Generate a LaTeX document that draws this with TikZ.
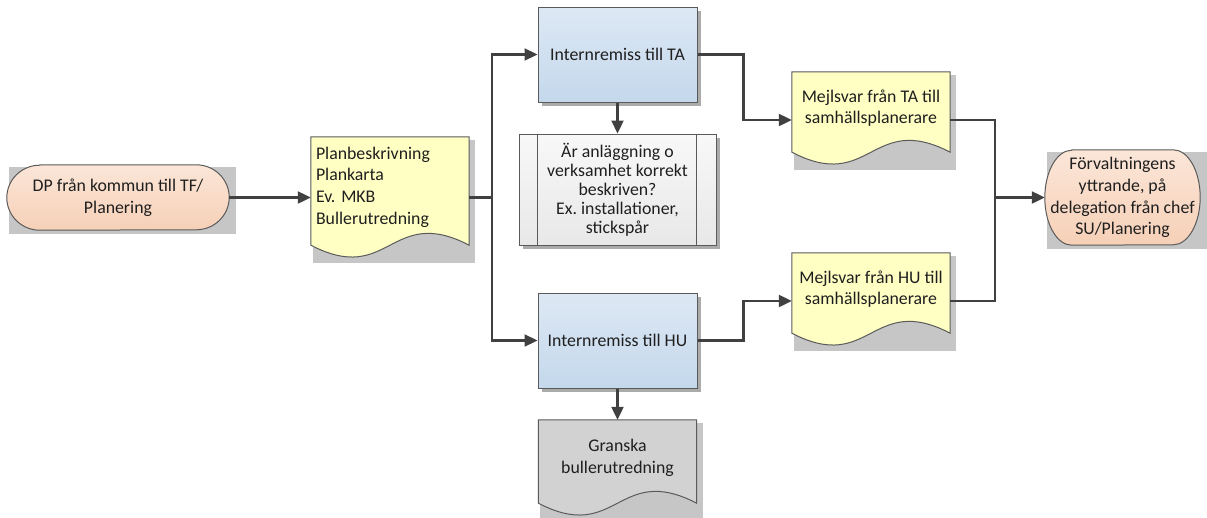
\documentclass[tikz,border=0pt]{standalone}
\usepackage{fontspec}
\setmainfont{Carlito}
\usetikzlibrary{arrows.meta,shadows}
\pgfdeclarelayer{background}
\pgfsetlayers{background,main}
\frenchspacing

\definecolor{linegray}{HTML}{404040}
\definecolor{bordergray}{HTML}{5A5A5A}
\definecolor{shadowgray}{HTML}{C6C6C6}
\definecolor{boxshadow}{HTML}{ABABAB}
\definecolor{peachtop}{HTML}{FBE6D8}
\definecolor{peachbot}{HTML}{F6D0B7}
\definecolor{bluetop}{HTML}{DDE8F4}
\definecolor{bluebot}{HTML}{C4D8EC}
\definecolor{subtop}{HTML}{F8F8F8}
\definecolor{subbot}{HTML}{E8E8E8}
\definecolor{docyellow}{HTML}{FFFFC4}
\definecolor{docgray}{HTML}{D2D2D2}

\begin{document}
\begin{tikzpicture}[x=1pt, y=1pt, >={Triangle[length=13pt,width=12pt]},
  every node/.style={font=\fontsize{17.8}{21.7}\selectfont, text=black!88},
  conn/.style={draw=linegray, line width=2.2pt},
  border/.style={draw=bordergray, line width=1pt},
  pill node/.style={inner sep=0pt, align=center},
  task node/.style={border, inner sep=0pt, align=center, minimum width=159pt, minimum height=95pt,
    top color=bluetop, bottom color=bluebot,
    drop shadow={shadow xshift=4pt, shadow yshift=-4pt, fill=boxshadow, opacity=1}},
  sub node/.style={border, inner sep=0pt, align=center, minimum width=197pt, minimum height=111pt,
    top color=subtop, bottom color=subbot, font=\fontsize{17.8}{19}\selectfont,
    drop shadow={shadow xshift=4pt, shadow yshift=-4pt, fill=boxshadow, opacity=1}},
  doc node/.style={inner sep=0pt, align=center, minimum width=158pt}]

  \useasboundingbox (0,0) rectangle (1207,-517);

  \node[pill node, minimum width=222pt, minimum height=65pt] (dp) at (118,-197.5) {DP från kommun till TF/\\Planering};
  \node[doc node, align=left, text width=148pt, inner xsep=5pt, minimum height=100pt] (plan)
    [node distance=272pt, right of=dp, yshift=10.5pt] {Planbeskrivning\\Plankarta\\Ev. MKB\\Bullerutredning};
  \node[task node] (ta) [node distance=227.5pt, right of=plan, yshift=132.5pt] {Internremiss till TA};
  \node[sub node] (sub) [node distance=135pt, below of=ta] {Är anläggning o\\verksamhet korrekt\\beskriven?\\Ex. installationer,\\stickspår};
  \node[task node] (hu) [node distance=286pt, below of=ta] {Internremiss till HU};
  \node[doc node, minimum height=75pt] (gran) [node distance=117pt, below of=hu] {Granska\\bullerutredning};
  \node[doc node, minimum height=72pt] (mta) [node distance=253.5pt, right of=ta, yshift=-53.5pt] {Mejlsvar från TA till\\samhällsplanerare};
  \node[doc node, minimum height=72pt] (mhu) [node distance=253.5pt, right of=hu, yshift=51.5pt] {Mejlsvar från HU till\\samhällsplanerare};
  \node[pill node, minimum width=155pt, minimum height=95pt] (yttr) [node distance=1004.5pt, right of=dp]
    {Förvaltningens\\yttrande, på\\delegation från chef\\SU/Planering};

  \draw[border] ([xshift=19pt]sub.north west) -- ([xshift=19pt]sub.south west)
    ([xshift=-20pt]sub.north east) -- ([xshift=-20pt]sub.south east);

  \begin{pgfonlayer}{background}
    % start and end shapes
    \foreach \n/\rx/\ry in {dp/33/32.5, yttr/27/47.5} {
      \fill[shadowgray] ([shift={(2pt,-2pt)}]\n.north west) rectangle ([shift={(7pt,-4pt)}]\n.south east);
      \draw[border, top color=peachtop, bottom color=peachbot]
        ([xshift=\rx pt]\n.north west) -- ([xshift=-\rx pt]\n.north east)
        arc[start angle=90, end angle=-90, x radius=\rx pt, y radius=\ry pt]
        -- ([xshift=\rx pt]\n.south west)
        arc[start angle=270, end angle=90, x radius=\rx pt, y radius=\ry pt] -- cycle;
    }
    % documents
    \foreach \n/\c in {plan/docyellow, mta/docyellow, mhu/docyellow, gran/docgray} {
      \fill[shadowgray] ([shift={(2pt,-3pt)}]\n.north west) rectangle ([shift={(6pt,-26pt)}]\n.south east);
      \draw[border, fill=\c] (\n.north west) -- (\n.north east) -- ([yshift=-8pt]\n.south east)
        .. controls ([shift={(-79pt,33pt)}]\n.south east) and ([shift={(79pt,-49pt)}]\n.south west)
        .. ([yshift=-8pt]\n.south west) -- cycle;
    }
  \end{pgfonlayer}

  \coordinate (fork) at ([xshift=23pt]plan.east |- dp);
  \coordinate (join) at ([xshift=-50pt]yttr.west);

  \draw[conn,->] (dp) -- (dp -| plan.west);
  \draw[conn] (plan.east |- dp) -- (fork);
  \draw[conn,->] (fork) |- (ta);
  \draw[conn,->] (fork) |- (hu);
  \draw[conn,->] (ta) -- (sub);
  \draw[conn,->] (hu) -- (gran);
  \draw[conn,->] (ta.east) -- ++(46pt,0) |- ([yshift=-12pt]mta.west);
  \draw[conn,->] (hu.east) -- ++(46pt,0) |- ([yshift=-12pt]mhu.west);
  \draw[conn] ([yshift=-12pt]mta.east) -| (join) |- ([yshift=-12pt]mhu.east);
  \draw[conn,->] (join) -- (yttr);
\end{tikzpicture}
\end{document}
